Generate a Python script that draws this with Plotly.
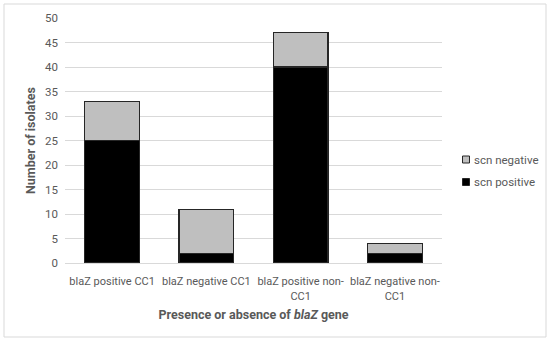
import plotly.graph_objects as go

categories = ["blaZ positive CC1", "blaZ negative CC1", "blaZ positive non-<br>CC1", "blaZ negative non-<br>CC1"]
scn_positive = [25, 2, 40, 2]
scn_negative = [8, 9, 7, 2]
y_ticks = [0, 5, 10, 15, 20, 25, 30, 35, 40, 45, 50]
legend_labels = ["scn negative", "scn positive"]
legend_colors = ["#bfbfbf", "#000000"]

FONT = "Roboto, sans-serif"
fig = go.Figure()
fig.add_trace(go.Bar(x=categories, y=scn_positive, name="scn positive", showlegend=False,
                     marker=dict(color="#000000", line=dict(color="#262626", width=1.2))))
fig.add_trace(go.Bar(x=categories, y=scn_negative, name="scn negative", showlegend=False,
                     marker=dict(color="#bfbfbf", line=dict(color="#262626", width=1.2))))

L, R, T, B = 65, 108, 18, 79
W, H = 550, 342
pw, ph = W - L - R, H - T - B

def px(x):
    return (x - L) / pw

def py(y):
    return (T + ph - y) / ph

shapes = [dict(type="rect", xref="paper", yref="paper",
               x0=px(4), x1=px(546), y0=py(337), y1=py(4),
               line=dict(color="#d9d9d9", width=1), fillcolor="rgba(0,0,0,0)", layer="below")]
annotations = []
for i, (lab, col) in enumerate(zip(legend_labels, legend_colors)):
    cy = 159.5 + i * 22.5
    shapes.append(dict(type="rect", xref="paper", yref="paper",
                       x0=px(462.5), x1=px(469.5), y0=py(cy + 3.5), y1=py(cy - 3.5),
                       line=dict(color="#262626", width=1), fillcolor=col))
    annotations.append(dict(xref="paper", yref="paper", x=px(472), y=py(cy), text=lab,
                            showarrow=False, xanchor="left", yanchor="middle",
                            font=dict(family=FONT, size=11.5, color="#595959")))

fig.update_layout(
    width=W, height=H, barmode="stack", bargap=0.42,
    margin=dict(l=L, r=R, t=T, b=B, autoexpand=False),
    plot_bgcolor="white", paper_bgcolor="white",
    font=dict(family=FONT, size=11, color="#595959"),
    showlegend=False,
    xaxis=dict(showline=True, linecolor="#d9d9d9", linewidth=1, ticks="", tickangle=0, automargin=False,
               ticklabelstandoff=8, tickfont=dict(size=11, color="#595959"),
               title=dict(text="<b>Presence or absence of <i>blaZ</i> gene</b>", font=dict(size=12.5, color="#595959"), standoff=8)),
    yaxis=dict(range=[0, 50], tickvals=y_ticks, showgrid=True, gridcolor="#d9d9d9", gridwidth=1, automargin=False,
               zeroline=False, ticks="", ticklabelstandoff=6, tickfont=dict(size=11.5, color="#595959"),
               title=dict(text="<b>Number of isolates</b>", font=dict(size=12.5, color="#595959"), standoff=6)),
    shapes=shapes,
    annotations=annotations,
)
fig.write_html("out.html", config={"displayModeBar": False}, post_script="document.body.style.margin='0';")
